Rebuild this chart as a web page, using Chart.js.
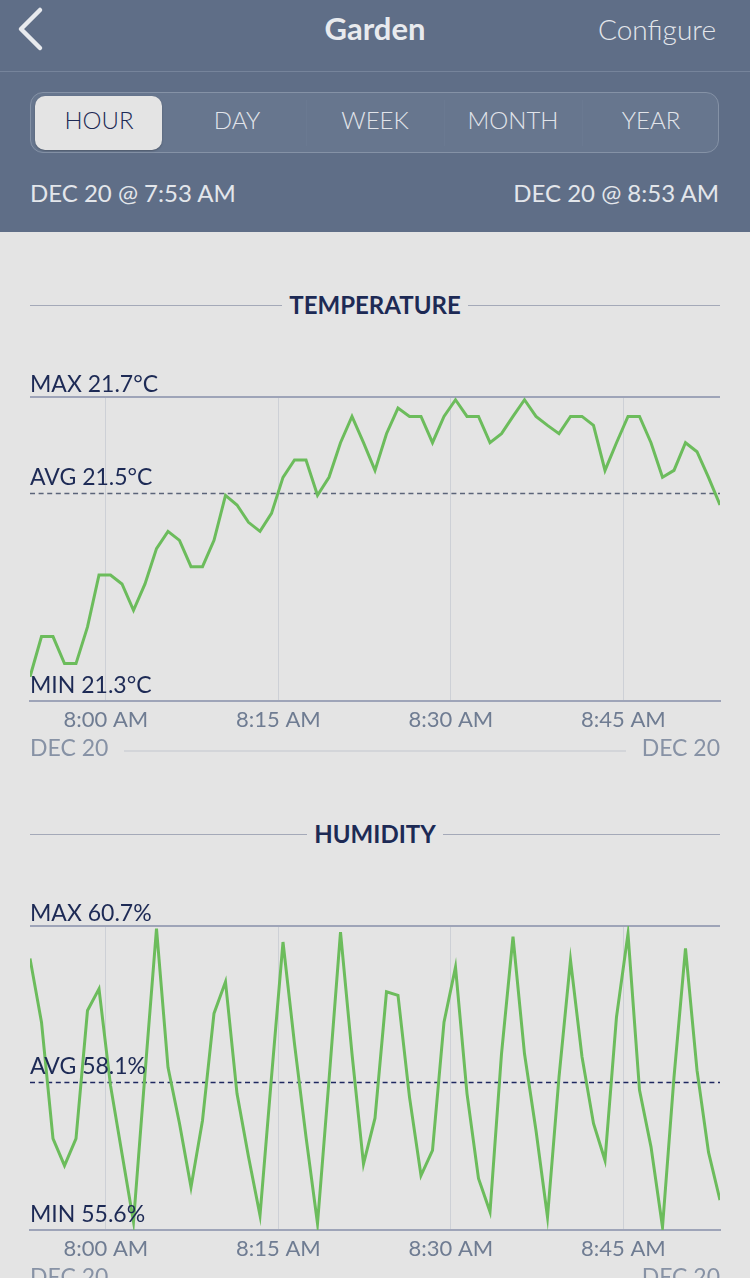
<!DOCTYPE html>
<html><head><meta charset="utf-8">
<script src="https://cdn.jsdelivr.net/npm/chart.js@4.4.1/dist/chart.umd.min.js"></script>
<style>
html,body{margin:0;padding:0;}
body{width:750px;height:1278px;overflow:hidden;background:#e4e4e4;position:relative;font-family:Lato,"Open Sans",sans-serif;}
.abs{position:absolute;white-space:nowrap;line-height:1.2;}
.hdr{position:absolute;left:0;top:0;width:750px;height:232px;background:#5f6e87;}
.seg{position:absolute;left:30px;top:92px;width:689px;height:61px;box-sizing:border-box;border:1.5px solid #8592a6;border-radius:13px;background:#67768e;}
.pill{position:absolute;left:34.5px;top:96px;width:127px;height:54px;border-radius:10px;background:#e4e4e4;box-shadow:0 1px 2px rgba(0,0,0,0.25);}
.div{position:absolute;top:100px;width:1px;height:46px;background:#6a7991;}
.segl{position:absolute;top:106px;width:138px;text-align:center;font-size:24px;font-weight:300;color:#e1e4ea;line-height:1.2;}
.title{position:absolute;left:30px;width:690px;display:flex;align-items:center;}
.title .ln{flex:1;height:1.5px;background:#a4a9b8;}
.title .tx{margin:0 7px;font-size:24px;font-weight:700;color:#1d2a55;line-height:1.2;}
.dec{position:absolute;font-size:23px;color:#8792a5;line-height:1.2;}
.decline{position:absolute;left:124px;width:502px;height:1.5px;background:#d3d5d9;}
canvas{position:absolute;left:0;}
</style>
</head>
<body>
<div class="hdr"></div>
<svg class="abs" style="left:0;top:0" width="70" height="60"><polyline points="40,10 21,29 40,48" fill="none" stroke="#e8eaee" stroke-width="4.5" stroke-linecap="round" stroke-linejoin="round"/></svg>
<div class="abs" style="left:0;width:750px;text-align:center;top:10px;font-size:31px;font-weight:700;color:#e8eaee;">Garden</div>
<div class="abs" style="right:34px;top:13px;font-size:28px;font-weight:300;color:#e3e6eb;">Configure</div>
<div class="abs" style="left:0;top:71px;width:750px;height:1px;background:#76849b;"></div>
<div class="seg"></div>
<div class="div" style="left:306px"></div>
<div class="div" style="left:444px"></div>
<div class="div" style="left:582px"></div>
<div class="pill"></div>
<div class="segl" style="left:30px;color:#1d2a55;">HOUR</div>
<div class="segl" style="left:168px;">DAY</div>
<div class="segl" style="left:306px;">WEEK</div>
<div class="segl" style="left:444px;">MONTH</div>
<div class="segl" style="left:582px;">YEAR</div>
<div class="abs" style="left:30px;top:179px;font-size:24px;color:#e3e6eb;">DEC 20 @ 7:53 AM</div>
<div class="abs" style="right:31px;top:179px;font-size:24px;color:#e3e6eb;">DEC 20 @ 8:53 AM</div>

<div class="title" style="top:291px"><div class="ln"></div><div class="tx">TEMPERATURE</div><div class="ln"></div></div>
<canvas id="temp" width="750" height="410" style="top:360px"></canvas>
<div class="dec" style="left:30px;top:734px">DEC 20</div>
<div class="dec" style="right:30px;top:734px">DEC 20</div>
<div class="decline" style="top:750px"></div>

<div class="title" style="top:820px"><div class="ln"></div><div class="tx">HUMIDITY</div><div class="ln"></div></div>
<canvas id="hum" width="750" height="410" style="top:889px"></canvas>
<div class="dec" style="left:30px;top:1263px">DEC 20</div>
<div class="dec" style="right:30px;top:1263px">DEC 20</div>
<div class="decline" style="top:1279px"></div>

<script>
// ---- data ----
const startMinute = 7 * 60 + 53.4;            // first reading ~7:53 AM
const tickMinutes = [480, 495, 510, 525];
const tickLabels = ['8:00 AM', '8:15 AM', '8:30 AM', '8:45 AM'];

const temperature = [
  21.300, 21.358, 21.358, 21.319, 21.319, 21.372, 21.447, 21.447, 21.434, 21.396,
  21.434, 21.485, 21.510, 21.497, 21.459, 21.459, 21.497, 21.562, 21.548, 21.523,
  21.510, 21.536, 21.588, 21.613, 21.613, 21.562, 21.588, 21.638, 21.676, 21.638,
  21.598, 21.651, 21.688, 21.676, 21.676, 21.638, 21.676, 21.700, 21.676, 21.676,
  21.638, 21.651, 21.676, 21.700, 21.676, 21.663, 21.651, 21.676, 21.676, 21.663,
  21.598, 21.638, 21.676, 21.676, 21.638, 21.588, 21.598, 21.638, 21.625, 21.588,
  21.548
];
const tempStats = { max: 'MAX 21.7°C', avg: 'AVG 21.5°C', min: 'MIN 21.3°C', avgValue: 21.565 };
const tempRange = { min: 21.265, max: 21.704 };

const humidity = [
  60.19, 59.10, 57.11, 56.65, 57.11, 59.30, 59.67, 58.02, 56.85, 55.69,
  58.22, 60.70, 58.33, 57.37, 56.28, 57.42, 59.25, 59.79, 57.88, 56.80,
  55.80, 58.16, 60.47, 58.73, 57.14, 55.66, 58.11, 60.64, 58.56, 56.68,
  57.46, 59.62, 59.56, 57.82, 56.48, 56.91, 59.10, 60.04, 57.88, 56.43,
  55.86, 58.56, 60.56, 58.56, 57.25, 55.77, 58.16, 60.16, 58.51, 57.37,
  56.74, 59.19, 60.61, 57.94, 56.97, 55.60, 58.16, 60.36, 58.28, 56.88,
  56.06
];
const humStats = { max: 'MAX 60.7%', avg: 'AVG 58.1%', min: 'MIN 55.6%', avgValue: 58.07 };
const humRange = { min: 55.549, max: 60.744 };

// ---- chart ----
const NAVY = '#1d2a55';
const AXIS = '#9ea4b8';

const refPlugin = {
  id: 'refLines',
  beforeDatasetsDraw(chart, args, opts) {
    const { ctx, chartArea: a, scales: { y } } = chart;
    ctx.save();
    ctx.strokeStyle = AXIS;
    ctx.lineWidth = 2;
    ctx.beginPath(); ctx.moveTo(a.left, a.top); ctx.lineTo(a.right, a.top); ctx.stroke();
    const ay = Math.round(y.getPixelForValue(opts.stats.avgValue)) + 0.5;
    ctx.strokeStyle = opts.avgColor;
    ctx.lineWidth = 1.5;
    ctx.setLineDash([5, 3.6]);
    ctx.beginPath(); ctx.moveTo(a.left, ay); ctx.lineTo(a.right, ay); ctx.stroke();
    ctx.restore();
  },
  afterDatasetsDraw(chart, args, opts) {
    const { ctx, chartArea: a, scales: { y } } = chart;
    const ay = y.getPixelForValue(opts.stats.avgValue);
    ctx.save();
    ctx.fillStyle = NAVY;
    ctx.font = '23px Lato, "Open Sans", sans-serif';
    ctx.textBaseline = 'alphabetic';
    ctx.textAlign = 'left';
    ctx.fillText(opts.stats.max, a.left, a.top - 5.5);
    ctx.fillText(opts.stats.avg, a.left, ay - 8);
    ctx.fillText(opts.stats.min, a.left, a.bottom - 8);
    ctx.restore();
  }
};

function makeChart(id, values, stats, range, avgColor) {
  const pts = values.map((v, i) => ({ x: startMinute + i, y: v }));
  return new Chart(document.getElementById(id), {
    type: 'line',
    data: { datasets: [{ data: pts, borderColor: '#6cbc5c', borderWidth: 3, pointRadius: 0, tension: 0, fill: false }] },
    options: {
      responsive: false, animation: false, devicePixelRatio: 1,
      layout: { padding: { top: 37, left: 30, right: 30, bottom: 0 } },
      plugins: { legend: { display: false }, tooltip: { enabled: false }, refLines: { stats, avgColor } },
      scales: {
        x: {
          type: 'linear', min: startMinute, max: startMinute + values.length - 1,
          afterBuildTicks: (s) => { s.ticks = tickMinutes.map(v => ({ value: v })); },
          afterFit: (s) => { s.height = 69; },
          grid: { color: '#cdd0d6', lineWidth: 1, drawTicks: false },
          border: { display: true, color: AXIS, width: 2 },
          ticks: {
            autoSkip: false, maxRotation: 0, padding: 6, color: '#6f7c92',
            font: { family: 'Lato, "Open Sans", sans-serif', size: 22 },
            callback: (v) => tickLabels[tickMinutes.indexOf(v)] || ''
          }
        },
        y: { display: false, min: range.min, max: range.max }
      }
    },
    plugins: [refPlugin]
  });
}

makeChart('temp', temperature, tempStats, tempRange, '#5b6479');
makeChart('hum', humidity, humStats, humRange, '#1f2860');
</script>
</body></html>
